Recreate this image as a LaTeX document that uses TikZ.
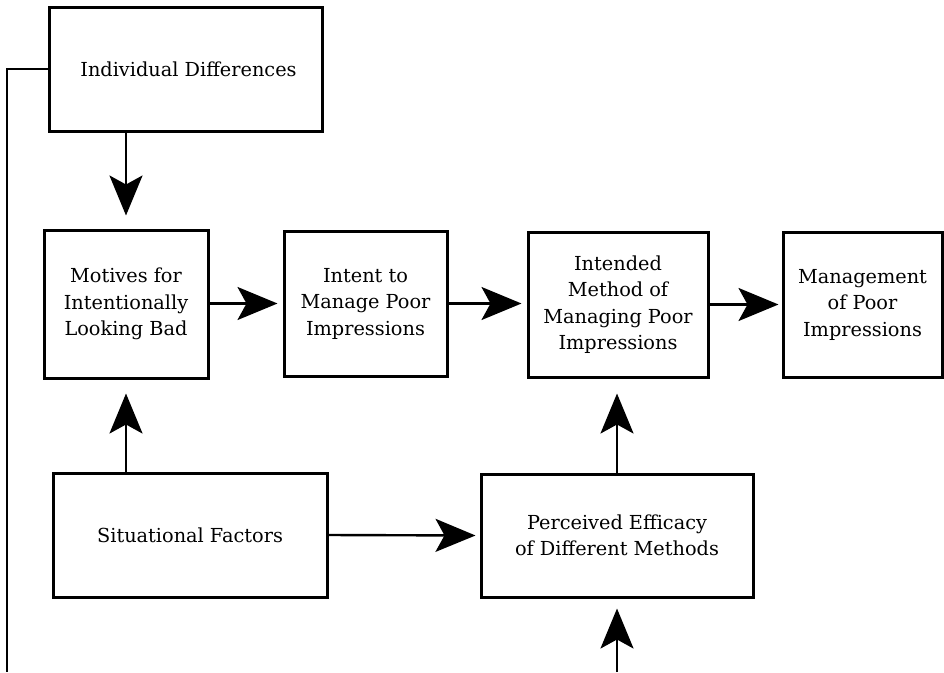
\documentclass[tikz,border=0pt]{standalone}
\usepackage{fontspec}
\setmainfont{DejaVu Serif}
\usetikzlibrary{arrows.meta}
\begin{document}
\begin{tikzpicture}[x=1pt,y=-1pt,
  box/.style={draw, line width=3pt, rectangle, align=center, inner sep=0pt,
    font=\fontsize{19.3}{26.5}\selectfont},
  conn/.style={line width=2.4pt},
  arr/.style={conn, -{Stealth[length=40pt,width=33pt,inset=9pt]}}]
\useasboundingbox (0,0) rectangle (944,672);
\node[box, minimum width=273pt, minimum height=124pt] (id) at (185.5,69) {\hspace*{6pt}Individual Differences};
\node[box, minimum width=164pt, minimum height=148pt] (mot) at (126,304) {Motives for\\Intentionally\\Looking Bad};
\node[box, minimum width=163pt, minimum height=145pt] (int) at (365.5,303.5) {Intent to\\Manage Poor\\Impressions};
\node[box, minimum width=180pt, minimum height=145pt] (imeth) at (618,304.5) {Intended\\Method of\\Managing Poor\\Impressions};
\node[box, minimum width=159pt, minimum height=145pt] (mgmt) at (862.5,304.5) {Management\\of Poor\\Impressions};
\node[box, minimum width=274pt, minimum height=124pt] (sit) at (190,535) {Situational Factors};
\node[box, minimum width=272pt, minimum height=123pt] (perc) at (617,535.5) {Perceived Efficacy\\of Different Methods};
\coordinate (lb) at (7,672);
\coordinate (bb) at (617,672);
\draw[conn] (id.west) -| (lb);
\draw[arr, shorten >=13pt] (id.south -| mot.north) -- (mot.north);
\draw[arr, shorten >=5pt] (mot.east |- int.west) -- (int.west);
\draw[arr, shorten >=5pt] (int.east) -- (int.east -| imeth.west);
\draw[arr, shorten >=3pt] (imeth.east) -- (mgmt.west);
\draw[arr, shorten >=14pt] (sit.north -| mot.south) -- (mot.south);
\draw[arr, shorten >=4pt] (sit.east) -- (perc.west);
\draw[arr, shorten >=15pt] (perc.north) -- (imeth.south -| perc.north);
\draw[arr, shorten >=10pt] (bb) -- (perc.south);
\end{tikzpicture}
\end{document}
